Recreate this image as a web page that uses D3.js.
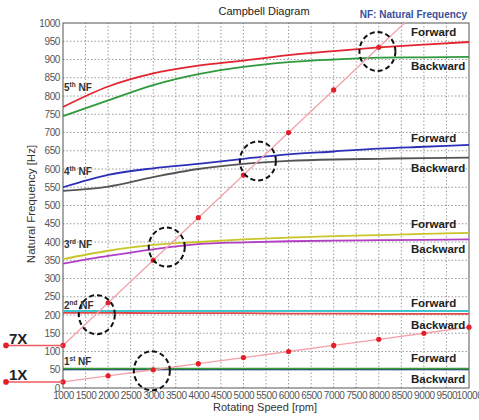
<!DOCTYPE html>
<html>
<head>
<meta charset="utf-8">
<script src="https://cdn.jsdelivr.net/npm/d3@7"></script>
<style>
  body { margin: 0; background: #fff; }
  text { font-family: "Liberation Sans", Arial, sans-serif; }
</style>
</head>
<body>
<script>
// rotating speed samples [rpm]
var speeds = [1000, 2000, 3000, 4000, 5000, 6000, 7000, 8000, 9000, 10000];

// natural frequencies [Hz]
var nf5Forward  = [770, 826, 862, 883, 897, 912, 923, 933, 941, 948];
var nf5Backward = [745, 788, 830, 860, 880, 893, 900, 905, 906, 907];
var nf4Forward  = [550, 584, 602, 614, 628, 640, 648, 656, 661, 666];
var nf4Backward = [540, 552, 578, 600, 614, 622, 626, 628, 630, 631];
var nf3Forward  = [353, 376, 392, 400, 407, 412, 416, 419, 422, 425];
var nf3Backward = [341, 362, 380, 394, 399, 402, 404, 405, 406, 407];
var nf2Forward  = [211, 211, 211, 211, 211, 211, 211, 211, 211, 211];
var nf2Backward = [206, 206, 205, 205, 205, 204, 204, 203, 203, 203];
var nf1Forward  = [53, 53, 53, 53, 53, 53, 53, 53, 53, 53];
var nf1Backward = [51, 51, 51, 51, 51, 51, 51, 51, 51, 51];

// excitation orders
var orders = [1, 7];

// crossing marks [rpm, Hz]
var crossings = [[7970, 922], [5320, 622], [3300, 386], [1750, 201], [2970, 47]];

var xTicks = d3.range(1000, 10001, 500);
var yTicks = d3.range(0, 1001, 50);

var width = 479, height = 420;
var margin = {top: 23, right: 10, bottom: 32, left: 63};

var svg = d3.select("body").append("svg")
    .attr("width", width)
    .attr("height", height);

var x = d3.scaleLinear().domain([1000, 10000]).range([margin.left, width - margin.right]);
var y = d3.scaleLinear().domain([0, 1000]).range([height - margin.bottom, margin.top]);

// grid
svg.append("g").selectAll("line.vg")
    .data(xTicks.slice(1, -1))
    .enter().append("line")
    .attr("x1", function(d) { return x(d); })
    .attr("x2", function(d) { return x(d); })
    .attr("y1", y(0)).attr("y2", y(1000))
    .attr("stroke", "#9a9a9a").attr("stroke-width", 1)
    .attr("stroke-dasharray", "1.5,2");

svg.append("g").selectAll("line.hg")
    .data(yTicks.slice(1, -1))
    .enter().append("line")
    .attr("y1", function(d) { return y(d); })
    .attr("y2", function(d) { return y(d); })
    .attr("x1", x(1000)).attr("x2", x(10000))
    .attr("stroke", "#9a9a9a").attr("stroke-width", 1)
    .attr("stroke-dasharray", "1.5,2");

// axes
var xAxis = svg.append("g")
    .attr("transform", "translate(0," + y(0) + ")")
    .call(d3.axisBottom(x).tickValues(xTicks).tickSize(0).tickPadding(4).tickFormat(d3.format("d")));
var yAxis = svg.append("g")
    .attr("transform", "translate(" + x(1000) + ",0)")
    .call(d3.axisLeft(y).tickValues(yTicks).tickSize(0).tickPadding(3).tickFormat(d3.format("d")));
[xAxis, yAxis].forEach(function(a) {
    a.select(".domain").remove();
    a.selectAll("text")
        .attr("font-size", 10)
        .attr("fill", "#555")
        .style("letter-spacing", "-0.4px");
});

svg.append("rect")
    .attr("x", x(1000)).attr("y", y(1000))
    .attr("width", x(10000) - x(1000))
    .attr("height", y(0) - y(1000))
    .attr("fill", "none").attr("stroke", "#555").attr("stroke-width", 1);

// natural frequency curves
var line = d3.line()
    .x(function(d, i) { return x(speeds[i]); })
    .y(function(d) { return y(d); })
    .curve(d3.curveMonotoneX);

var curves = [
    {v: nf5Backward, c: "#2f9a3c"}, {v: nf5Forward, c: "#e3242f"},
    {v: nf4Backward, c: "#555555"}, {v: nf4Forward, c: "#2d2fb8"},
    {v: nf3Backward, c: "#b23ec4"}, {v: nf3Forward, c: "#c9c52a"},
    {v: nf2Backward, c: "#e34848"}, {v: nf2Forward, c: "#3fc3cf"},
    {v: nf1Backward, c: "#1f2b8c"}, {v: nf1Forward, c: "#3a9b3a"}
];
svg.append("g").selectAll("path")
    .data(curves)
    .enter().append("path")
    .attr("d", function(d) { return line(d.v); })
    .attr("fill", "none")
    .attr("stroke", function(d) { return d.c; })
    .attr("stroke-width", 1.8);

// excitation lines
var clip = svg.append("clipPath").attr("id", "plot")
    .append("rect")
    .attr("x", x(1000) - 4).attr("y", y(1000))
    .attr("width", x(10000) - x(1000) + 8)
    .attr("height", y(0) - y(1000) + 4);

orders.forEach(function(k) {
    var pts = speeds.map(function(s) { return [s, s * k / 60]; });
    var g = svg.append("g").attr("clip-path", "url(#plot)");
    g.append("path")
        .attr("d", d3.line()
            .x(function(d) { return x(d[0]); })
            .y(function(d) { return y(d[1]); })(pts))
        .attr("fill", "none").attr("stroke", "#f3a2a9").attr("stroke-width", 1.3);
    g.selectAll("circle")
        .data(pts.filter(function(d) { return d[1] <= 1000; }))
        .enter().append("circle")
        .attr("cx", function(d) { return x(d[0]); })
        .attr("cy", function(d) { return y(d[1]); })
        .attr("r", 2.6).attr("fill", "#e41f2a");

    // lead line and label on the left
    var y0 = y(speeds[0] * k / 60);
    svg.append("line")
        .attr("x1", 6).attr("x2", x(1000))
        .attr("y1", y0).attr("y2", y0)
        .attr("stroke", "#ef5a62").attr("stroke-width", 1.5);
    svg.append("circle").attr("cx", 6).attr("cy", y0).attr("r", 2.8).attr("fill", "#e41f2a");
    svg.append("text")
        .attr("x", 9).attr("y", y0 - 1.5)
        .attr("font-size", 15).attr("font-weight", "bold").attr("fill", "#222")
        .text(k + "X");
});

// crossing circles
svg.append("g").selectAll("ellipse")
    .data(crossings)
    .enter().append("ellipse")
    .attr("cx", function(d) { return x(d[0]); })
    .attr("cy", function(d) { return y(d[1]); })
    .attr("rx", 18).attr("ry", 19.5)
    .attr("fill", "none").attr("stroke", "#111")
    .attr("stroke-width", 2).attr("stroke-dasharray", "5,3");

// mode labels
var nfLabels = [["5", "th", 814], ["4", "th", 583], ["3", "rd", 384], ["2", "nd", 216], ["1", "st", 63]];
nfLabels.forEach(function(d) {
    var t = svg.append("text")
        .attr("x", x(1000) + 1).attr("y", y(d[2]))
        .attr("font-size", 10).attr("font-weight", "bold").attr("fill", "#333");
    t.append("tspan").text(d[0]);
    t.append("tspan").attr("font-size", 6.5).attr("dy", -4).text(d[1]);
    t.append("tspan").attr("dy", 4).text(" NF");
});

var dirLabels = [964, 870, 675, 593, 438, 371, 222, 162, 72, 14];
svg.append("g").selectAll("text")
    .data(dirLabels)
    .enter().append("text")
    .attr("x", 411)
    .attr("y", function(d) { return y(d); })
    .attr("font-size", 11.5).attr("font-weight", "bold").attr("fill", "#222")
    .text(function(d, i) { return i % 2 ? "Backward" : "Forward"; });

// titles
svg.append("text")
    .attr("x", 264).attr("y", 15)
    .attr("text-anchor", "middle").attr("font-size", 11).attr("fill", "#222")
    .text("Campbell Diagram");
svg.append("text")
    .attr("x", 467).attr("y", 18)
    .attr("text-anchor", "end").attr("font-size", 10).attr("font-weight", "bold").attr("fill", "#3b4f9c")
    .text("NF: Natural Frequency");
svg.append("text")
    .attr("x", 265).attr("y", 411)
    .attr("text-anchor", "middle").attr("font-size", 11).attr("fill", "#333")
    .text("Rotating Speed [rpm]");
svg.append("text")
    .attr("transform", "translate(35,204) rotate(-90)")
    .attr("text-anchor", "middle").attr("font-size", 11.5).attr("fill", "#333")
    .text("Natural Frequency [Hz]");
</script>
</body>
</html>
